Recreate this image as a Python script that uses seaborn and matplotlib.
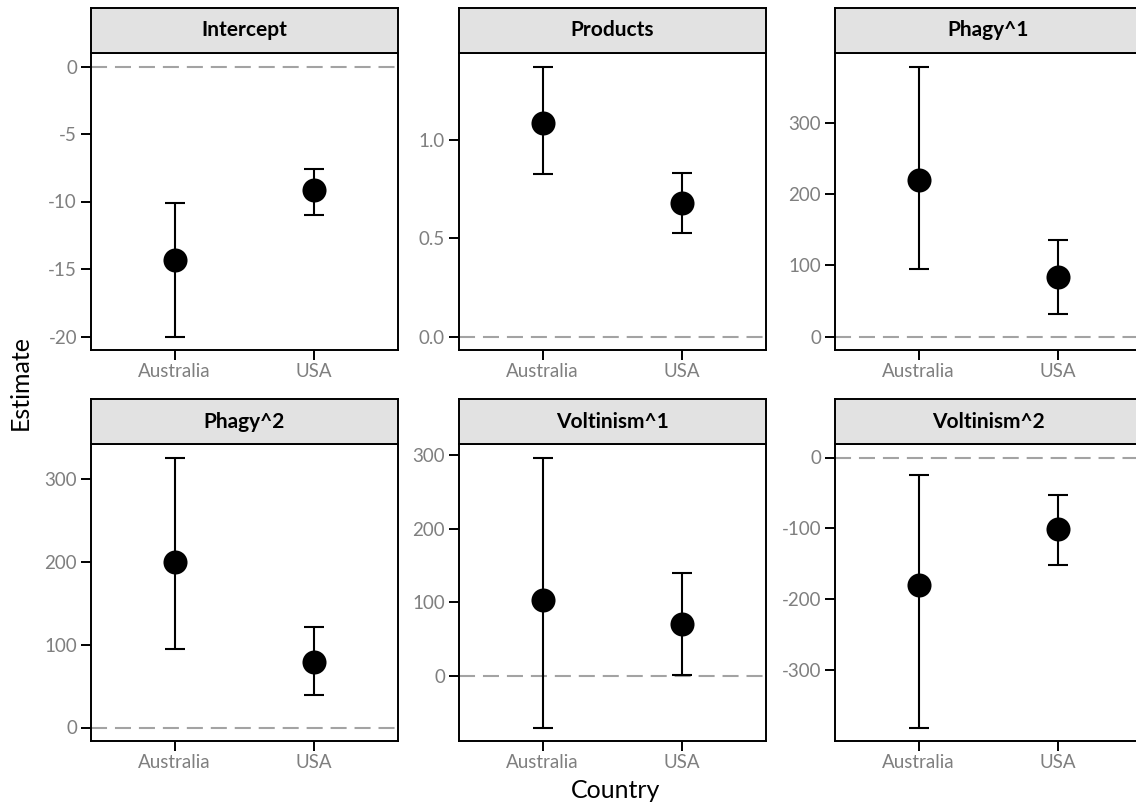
import numpy as np
import pandas as pd
import matplotlib
matplotlib.use("Agg")
import matplotlib.pyplot as plt
import seaborn as sns

# ---- data ----
terms = ["Intercept", "Products", "Phagy^1", "Phagy^2", "Voltinism^1", "Voltinism^2"]
countries = ["Australia", "USA"]
estimate_aus = [-14.3, 1.089, 220, 200, 103, -180]
lower_aus = [-20.0, 0.825, 95, 95, -69, -381]
upper_aus = [-10.1, 1.374, 379, 326, 296, -25]
estimate_usa = [-9.18, 0.677, 83, 79, 71, -101]
lower_usa = [-10.99, 0.528, 32, 38.7, 1.4, -152]
upper_usa = [-7.57, 0.830, 136, 121.5, 140, -53]
yticks = [[0, -5, -10, -15, -20], [0.0, 0.5, 1.0], [0, 100, 200, 300],
          [0, 100, 200, 300], [0, 100, 200, 300], [0, -100, -200, -300]]
yticklabels = [["0", "-5", "-10", "-15", "-20"], ["0.0", "0.5", "1.0"],
               ["0", "100", "200", "300"], ["0", "100", "200", "300"],
               ["0", "100", "200", "300"], ["0", "-100", "-200", "-300"]]

rows = []
for i, t in enumerate(terms):
    rows.append(dict(term=t, Country="Australia", Estimate=estimate_aus[i],
                     lower=lower_aus[i], upper=upper_aus[i]))
    rows.append(dict(term=t, Country="USA", Estimate=estimate_usa[i],
                     lower=lower_usa[i], upper=upper_usa[i]))
df = pd.DataFrame(rows)

sns.set_theme(style="white")
plt.rcParams["font.family"] = ["Lato", "DejaVu Sans"]
plt.rcParams["axes.unicode_minus"] = False

W, H = 1136, 808
fig = plt.figure(figsize=(W / 100, H / 100), dpi=100)
fig.patch.set_facecolor("white")

col_left = [91, 459, 835]
panel_w = 307
row_top = [53, 444]
panel_h = 297
strip_h = 45

tick_grey = "#7f7f7f"
lw = 1.4

for i, t in enumerate(terms):
    r, c = divmod(i, 3)
    l = col_left[c]
    top = row_top[r]
    ax = fig.add_axes([l / W, (H - top - panel_h) / H, panel_w / W, panel_h / H])
    sub = df[df.term == t]

    ax.axhline(0, color="#a3a3a3", lw=1.5, ls=(0, (7.7, 3.8)), zorder=1)
    yerr = np.array([sub.Estimate - sub.lower, sub.upper - sub.Estimate])
    ax.errorbar(list(sub.Country), list(sub.Estimate), yerr=yerr, fmt="none",
                ecolor="black", elinewidth=1.5, capsize=7.5, capthick=1.5, zorder=2)
    sns.scatterplot(data=sub, x="Country", y="Estimate", ax=ax, color="black",
                    s=300, linewidth=0, zorder=3, legend=False)

    ymin = min(sub.lower.min(), 0)
    ymax = max(sub.upper.max(), 0)
    pad = (ymax - ymin) * 0.05
    ax.set_ylim(ymin - pad, ymax + pad)
    ax.set_xlim(-0.6, 1.6)
    ax.set_yticks(yticks[i])
    ax.set_yticklabels(yticklabels[i])
    ax.set_xlabel("")
    ax.set_ylabel("")
    ax.grid(False)
    ax.tick_params(axis="both", length=7, width=lw, color="black",
                   labelsize=13.5, labelcolor=tick_grey, direction="out",
                   left=True, bottom=True)
    ax.tick_params(axis="y", pad=3)
    ax.tick_params(axis="x", pad=2)
    for sp in ax.spines.values():
        sp.set_visible(True)
        sp.set_color("black")
        sp.set_linewidth(lw)

    sax = fig.add_axes([l / W, (H - top) / H, panel_w / W, strip_h / H])
    sax.set_facecolor("#e2e2e2")
    sax.set_xticks([])
    sax.set_yticks([])
    for sp in sax.spines.values():
        sp.set_color("black")
        sp.set_linewidth(lw)
    sax.text(0.5, 0.5, t, transform=sax.transAxes, ha="center", va="center",
             fontsize=15, fontweight="bold", color="black")

fig.text(616 / W, 1 - 791 / H, "Country", ha="center", va="center",
         fontsize=18, color="black")
fig.text(20 / W, 1 - 382 / H, "Estimate", ha="center", va="center",
         rotation=90, fontsize=18, color="black")

fig.savefig("out.png", dpi=100, facecolor="white")
